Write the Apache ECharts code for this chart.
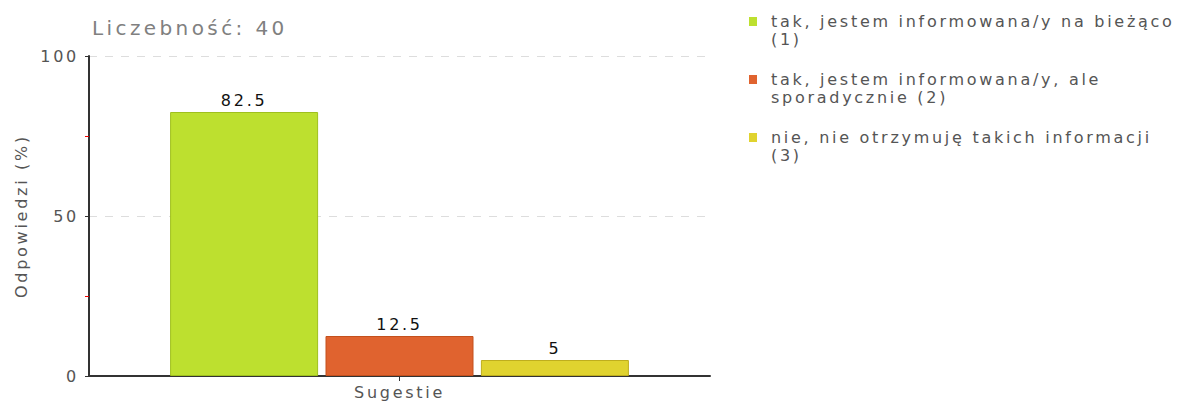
<!DOCTYPE html>
<html><head><meta charset="utf-8">
<script src="https://cdn.jsdelivr.net/npm/echarts@6/dist/echarts.min.js"></script>
<style>html,body{margin:0;padding:0;background:#fff}#c{width:1184px;height:407px}#c text{letter-spacing:0.17em}</style>
</head><body><div id="c"></div>
<script>
var categories = ['Sugestie'];
var seriesNames = ['tak, jestem informowana/y na bieżąco (1)', 'tak, jestem informowana/y, ale sporadycznie (2)', 'nie, nie otrzymuję takich informacji (3)'];
var legendLabels = ['tak, jestem informowana/y na bieżąco\n(1)', 'tak, jestem informowana/y, ale\nsporadycznie (2)', 'nie, nie otrzymuję takich informacji\n(3)'];
var values1 = [82.5];
var values2 = [12.5];
var values3 = [5];
var titleText = 'Liczebność: 40';
var yAxisName = 'Odpowiedzi (%)';
var fills = ['#bde02f', '#e0632f', '#e0d32f'];
var borders = ['#9fc01e', '#c4501d', '#bfae1d'];
var font = '"DejaVu Sans", Verdana, sans-serif';
var allValues = [values1, values2, values3];

var chart = echarts.init(document.getElementById('c'), null, { renderer: 'svg' });
var series = seriesNames.map(function (n, i) {
  return {
    name: n, type: 'bar', data: allValues[i], barWidth: 148, barGap: '5%',
    itemStyle: { color: fills[i], borderColor: borders[i], borderWidth: 1 },
    label: { show: true, position: 'top', distance: 4, color: '#111', fontFamily: font, fontSize: 16 }
  };
});
chart.setOption({
  animation: false,
  title: { text: titleText, left: 87, top: 13, textStyle: { fontFamily: font, fontSize: 20, fontWeight: 'normal', color: '#808080' } },
  grid: { left: 89, right: 474, top: 56, bottom: 31, containLabel: false },
  legend: {
    orient: 'vertical', left: 744, top: 6, itemGap: 20, itemWidth: 22, itemHeight: 38,
    icon: 'path://M0,0L0,0M22,38L22,38M0,6L8,6L8,15L0,15Z',
    itemStyle: { borderWidth: 0 },
    formatter: function (n) { return legendLabels[seriesNames.indexOf(n)]; },
    textStyle: { fontFamily: font, fontSize: 16, color: '#555', lineHeight: 18, padding: [0, 0, 0, -5] }
  },
  xAxis: {
    type: 'category', data: categories,
    axisLine: { lineStyle: { color: '#333', width: 2 } },
    axisTick: { show: true, alignWithLabel: true, length: 5, lineStyle: { color: '#333' } },
    axisLabel: { fontFamily: font, fontSize: 16, color: '#555', margin: 8 }
  },
  yAxis: {
    type: 'value', min: 0, max: 100, interval: 50,
    name: yAxisName, nameLocation: 'middle', nameGap: 60,
    nameTextStyle: { fontFamily: font, fontSize: 16, color: '#555' },
    axisLine: { show: true, lineStyle: { color: '#333', width: 2 } },
    axisTick: { show: true, length: 4, lineStyle: { color: '#333' } },
    minorTick: { show: true, splitNumber: 2, length: 4, lineStyle: { color: '#e00' } },
    axisLabel: { fontFamily: font, fontSize: 16, color: '#555', margin: 10 },
    splitLine: { show: true, lineStyle: { color: '#ddd', type: [8, 8] } }
  },
  series: series
});
</script></body></html>
